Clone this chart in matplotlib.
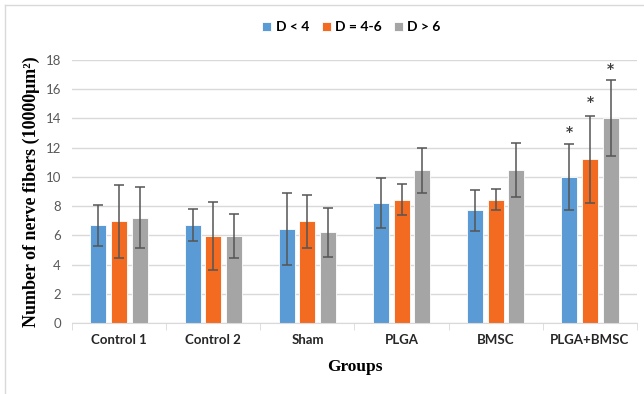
import matplotlib.pyplot as plt
import numpy as np
from matplotlib.lines import Line2D

groups = ["Control 1", "Control 2", "Sham", "PLGA", "BMSC", "PLGA+BMSC"]
series = ["D < 4", "D = 4-6", "D > 6"]
colors = ["#5B9BD5", "#F26B21", "#A5A5A5"]

d_small = [6.7, 6.7, 6.45, 8.2, 7.7, 10.0]
d_mid = [6.95, 5.95, 6.95, 8.45, 8.45, 11.2]
d_big = [7.2, 5.95, 6.2, 10.45, 10.45, 14.0]

err_small = [1.4, 1.1, 2.45, 1.7, 1.4, 2.25]
err_mid = [2.5, 2.35, 1.8, 1.05, 0.7, 3.0]
err_big = [2.1, 1.5, 1.7, 1.55, 1.85, 2.6]

star_small = [None, None, None, None, None, 13.1]
star_mid = [None, None, None, None, None, 15.1]
star_big = [None, None, None, None, None, 17.4]

values = [d_small, d_mid, d_big]
errors = [err_small, err_mid, err_big]
stars = [star_small, star_mid, star_big]

sans = ["Lato", "DejaVu Sans"]

fig = plt.figure(figsize=(6.44, 3.94), dpi=100)
ax = fig.add_axes([72 / 644, 71 / 394, 565 / 644, 263 / 394])

x = np.arange(len(groups))
w = 0.17
step = 0.22
for i in range(3):
    pos = x + (i - 1) * step
    ax.bar(pos, values[i], w, color=colors[i], edgecolor="white", linewidth=0.6,
           label=series[i], zorder=2)
    ax.errorbar(pos, values[i], yerr=errors[i], fmt="none", ecolor="#555555",
                elinewidth=1.1, capsize=3.5, capthick=1.1, zorder=3)
    for p, s in zip(pos, stars[i]):
        if s is not None:
            ax.text(p, s, "*", ha="center", va="center", fontsize=10,
                    color="#404040", fontweight="bold")

ax.set_xlim(-0.5, len(groups) - 0.5)
ax.set_ylim(0, 18)
ax.set_yticks(range(0, 19, 2))
ax.yaxis.grid(True, color="#D9D9D9", linewidth=1)
ax.set_axisbelow(True)
for s in ["top", "right", "left"]:
    ax.spines[s].set_visible(False)
ax.spines["bottom"].set_color("#D9D9D9")
ax.tick_params(axis="y", length=0, colors="#595959", labelsize=9.5, pad=8)
for lab in ax.get_yticklabels():
    lab.set_family(sans)
ax.set_xticks(x)
ax.set_xticklabels(groups, fontsize=9.5, fontweight="bold", color="#262626",
                   family=sans)
ax.set_xticks(np.arange(len(groups) + 1) - 0.5, minor=True)
ax.tick_params(axis="x", which="major", length=0, pad=8)
ax.tick_params(axis="x", which="minor", length=5, color="#D9D9D9")

ax.set_xlabel("Groups", fontsize=12.5, fontweight="bold", family="Liberation Serif",
              labelpad=9)
ax.set_ylabel("Number of nerve fibers (10000μm²)", fontsize=13, fontweight="bold",
              family="Liberation Serif", labelpad=4)

ax.legend(loc="upper center", bbox_to_anchor=(0.5 - 3 / 565, 1.195), ncol=3,
          frameon=False, handlelength=0.65, handleheight=0.65, handletextpad=0.3,
          columnspacing=0.9, prop={"family": sans, "weight": "bold", "size": 10})

fig.add_artist(Line2D([5 / 644, 5 / 644], [0, 1 - 5 / 394], color="#D9D9D9", lw=1))
fig.add_artist(Line2D([5 / 644, 1], [1 - 5 / 394, 1 - 5 / 394], color="#D9D9D9", lw=1))

fig.savefig("out.png", dpi=100)
